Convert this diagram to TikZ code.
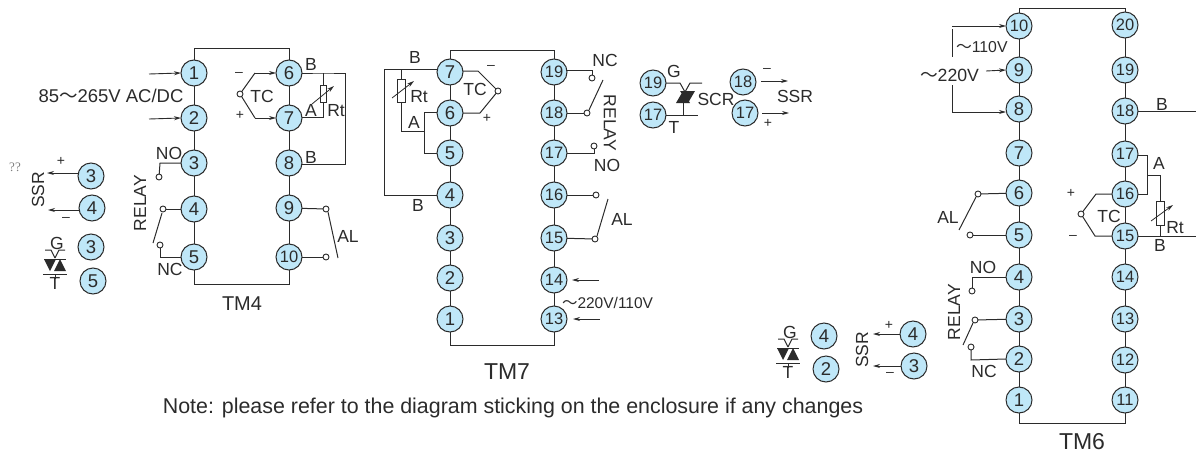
\documentclass[tikz,border=0pt]{standalone}
\usepackage{fontspec}
\setmainfont{Liberation Sans}
\newfontfamily\cjkf{Noto Sans CJK SC}
\newfontfamily\serf{Liberation Serif}
\usetikzlibrary{arrows.meta,calc}
\definecolor{ink}{HTML}{2B2B2B}
\definecolor{termfill}{HTML}{BFE7F8}
\newcommand{\wave}{{\cjkf ～}}
\newcommand{\tn}[1]{\ifnum#1>9 \fontsize{16.5}{16.5}\selectfont #1\else #1\fi}
\tikzset{
  x=1pt,y=-1pt,
  every path/.style={ink,line width=1pt},
  every node/.style={text=ink,inner sep=0pt,outer sep=0pt},
  term/.style={circle,draw=ink,fill=termfill,line width=1pt,minimum size=26pt,font=\fontsize{18.5}{18.5}\selectfont},
  contact/.style={circle,draw=ink,fill=white,line width=0.9pt,minimum size=6pt},
  lab/.style={font=\fontsize{17.5}{17.5}\selectfont},
  labs/.style={font=\fontsize{14}{14}\selectfont},
  arr/.style={-{Stealth[length=7pt,width=4pt]},line width=0.9pt},
  rtarrow/.style={-{Stealth[length=7pt,width=4pt]},line width=.8pt},
}
\newcommand{\triac}[3]{%
 \begin{scope}[shift={(#2,#3)}]
  \draw (-10,-12) -- (-4,-12) -- (0,-4);
  \draw (10,-12) -- (4,-12) -- (0,-4);
  \draw (-11,-3) -- (11,-3);
  \draw (-12,12) -- (12,12);
  \draw (0,12) -- (0,17);
  \fill[ink] (-11,-3) -- (1,-3) -- (-5,9) -- cycle;
  \fill[ink] (-1,9) -- (11,9) -- (5,-3) -- cycle;
 \end{scope}}
\begin{document}
\begin{tikzpicture}
\useasboundingbox (0,0) rectangle (1198,455);
% ---------- TM4 ----------
\foreach \n/\xx/\yy in {a1/194/73,a2/194/118,a3/194/163,a4/194/209,a5/194/257,
  a6/289/73,a7/289/118,a8/289/163,a9/289/208,a10/289/257}
  \coordinate (\n) at (\xx,\yy);
\coordinate (atl) at (194,48); \coordinate (atr) at (289,48);
\coordinate (abl) at (194,284); \coordinate (abr) at (289,284);
\draw (a1) -- (atl) -- (atr) -- (a6);
\draw (a5) -- (abl) -- (abr) -- (a10);
\draw (a1) -- (a5); \draw (a6) -- (a10);
\foreach \n/\t in {a1/1,a2/2,a3/3,a4/4,a5/5,a6/6,a7/7,a8/8,a9/9,a10/10}
  \node[term] (\n) at (\n) {\tn{\t}};
\coordinate (a1in) at (149,74); \coordinate (a2in) at (149,119);
\draw[arr] (a1in) -- (a1.west);
\draw[arr] (a2in) -- (a2.west);
\node[font=\fontsize{18.5}{18.5}\selectfont] at (111,96) {85\wave265V AC/DC};
% relay
\node[contact] (cNO) at (159,177) {};
\draw (a3.west) -- (160,163) -- (cNO);
\node[lab] at (169,153) {NO};
\node[contact] (c4) at (163,209) {};
\draw (a4) -- (c4);
\node[contact] (c5) at (160,245) {};
\draw (a5.west) -- (160,257) -- (c5);
\draw (162,213) -- (153,243);
\node[lab] at (170,269) {NC};
\node[lab,rotate=90] at (140,203) {RELAY};
% TC
\node[contact] (tc1) at (240,94) {};
\coordinate (tca) at (255,73); \coordinate (tcb) at (255,118);
\draw (tc1) -- (tca); \draw (tc1) -- (tcb);
\draw[arr] (tca) -- (a6.west);
\draw[arr] (tcb) -- (a7.west);
\node[labs] at (239,74) {–};
\node[labs] at (240,115) {+};
\node[lab] at (262,96) {TC};
% Rt
\coordinate (rttop) at (323,73); \coordinate (rtbot) at (323,117);
\coordinate (rtr) at (345,73); \coordinate (rtb) at (345,164);
\draw (a6.east) -- (rttop) -- (rtr) -- (rtb) -- (a8.east |- rtb);
\draw (rttop) -- (rtbot) -- (a7.east |- rtbot);
\node[draw=ink,fill=white,minimum width=6pt,minimum height=17pt,line width=.9pt] (art) at (323,94) {};
\draw[rtarrow] (312,104) -- (334,86);
\node[lab] at (311,64) {B};
\node[lab] at (311,110) {A};
\node[lab] at (336,111) {Rt};
\node[lab] at (311,157) {B};
% AL
\node[contact] (c9) at (326,209) {};
\node[contact] (c10) at (326,257) {};
\draw (a9) -- (c9); \draw (a10) -- (c10);
\draw (328,212) -- (338,258);
\node[lab] at (348,236) {AL};
\node[font=\fontsize{20}{20}\selectfont] at (242,304) {TM4};
% side
\node[term] (s1) at (91,176) {3};
\node[term] (s2) at (92,208) {4};
\node[term] (s3) at (91,247) {3};
\node[term] (s4) at (93,281) {5};
\coordinate (ssra) at (47,173); \coordinate (ssrb) at (48,210);
\draw[arr] (s1.west |- ssra) -- (ssra);
\draw[arr] (s2.west |- ssrb) -- (ssrb);
\node[labs] at (61,161) {+};
\node[labs] at (66,219) {–};
\node[lab,rotate=90] at (38,190) {SSR};
\node[font=\serf\fontsize{13}{13}\selectfont,text=gray] at (15,167) {??};
\node[lab] at (57,243) {G};
\node[lab] at (55,283) {T};
\triac{t1}{55}{262}
% ---------- TM7 ----------
\foreach \n/\xx/\yy in {b7/450/72,b6/450/113,b5/450/153,b4/450/195,b3/450/238,b2/450/278,b1/450/319,
  b19/554/72,b18/554/113,b17/554/153,b16/554/195,b15/554/238,b14/554/280,b13/554/319}
  \coordinate (\n) at (\xx,\yy);
\coordinate (btl) at (450,50); \coordinate (btr) at (554,50);
\coordinate (bbl) at (450,345); \coordinate (bbr) at (554,345);
\draw (b7) -- (btl) -- (btr) -- (b19);
\draw (b1) -- (bbl) -- (bbr) -- (b13);
\draw (b7) -- (b1); \draw (b19) -- (b13);
\foreach \n/\t in {b7/7,b6/6,b5/5,b4/4,b3/3,b2/2,b1/1,b19/19,b18/18,b17/17,b16/16,b15/15,b14/14,b13/13}
  \node[term] (\n) at (\n) {\tn{\t}};
% B loop
\coordinate (bb1) at (384,69); \coordinate (bb2) at (384,195); \coordinate (rtj) at (401,69);
\draw (b7.west |- bb1) -- (bb1) -- (bb2) -- (b4.west);
\coordinate (rtl) at (401,131); \coordinate (aj) at (424,131);
\draw (rtj) -- (rtl) -- (aj);
\coordinate (aj1) at (424,112); \coordinate (aj2) at (424,153);
\draw (b6.west |- aj1) -- (aj1) -- (aj2) -- (b5.west);
\node[draw=ink,fill=white,minimum width=8pt,minimum height=23pt,line width=.9pt] (brt) at (401,91) {};
\draw[rtarrow] (392,98) -- (414,81);
\node[lab] at (415,57) {B};
\node[lab] at (419,97) {Rt};
\node[lab] at (414,122) {A};
\node[lab] at (418,205) {B};
% TC
\node[contact] (btc) at (498,91) {};
\coordinate (btca) at (478,71); \coordinate (btcb) at (480,113);
\draw (b7.east |- btca) -- (btca) -- (btc) -- (btcb) -- (b6.east);
\node[labs] at (491,67) {–};
\node[labs] at (487,118) {+};
\node[lab] at (475,89) {TC};
% relay
\node[contact] (cnc) at (592,78) {};
\draw (b19.east |- 0,70) -- (592,70) -- (cnc);
\node[contact] (c18) at (587,113) {};
\draw (b18) -- (c18);
\draw (589,110) -- (603,80);
\node[contact] (cno) at (594,146) {};
\draw (b17.east) -- (594,153) -- (cno);
\node[lab] at (605,60) {NC};
\node[lab] at (607,165) {NO};
\node[lab,rotate=-90] at (610,123) {RELAY};
% AL
\node[contact] (c16) at (596,195) {};
\node[contact] (c15) at (595,239) {};
\draw (b16) -- (c16); \draw (b15) -- (c15);
\draw (597,236) -- (608,199);
\node[lab] at (622,219) {AL};
% supply
\coordinate (b14in) at (599,280); \coordinate (b13in) at (600,319);
\draw[arr] (b14in) -- (572,280);
\draw[arr] (b13in) -- (573,319);
\node[anchor=west,font=\fontsize{15.5}{15.5}\selectfont] at (562,303) {\wave220V/110V};
\node[font=\fontsize{23}{23}\selectfont] at (507,372) {TM7};
% SCR
\node[term] (x19) at (653,83) {\tn{19}};
\node[term] (x17) at (653,115) {\tn{17}};
\node[term] (x18) at (743,82) {\tn{18}};
\node[term] (x17b) at (745,113) {\tn{17}};
\coordinate (sg) at (680,83);
\draw (x19) -- (sg) -- (685,92);
\draw (702,83) -- (690,83) -- (685,92);
\coordinate (st) at (683,115);
\draw (x17) -- (698,115);
\draw (683,100) -- (683,115);
\fill[ink] (676,103) -- (690,103) -- (683,91) -- cycle;
\fill[ink] (680,91) -- (695,91) -- (688,103) -- cycle;
\node[lab] at (674,71) {G};
\node[lab] at (674,127) {T};
\node[lab] at (716,99) {SCR};
\draw[arr] (761,81) -- (788,81);
\draw[arr] (762,113) -- (789,113);
\node[labs] at (767,70) {–};
\node[labs] at (768,123) {+};
\node[lab] at (795,96) {SSR};
% ---------- TM6 ----------
\foreach \n/\xx/\yy in {c10/1019/26,c9/1019/70,c8/1019/109,c7/1019/153,c6/1019/193,c5/1019/235,c4/1019/277,c3/1019/319,c2/1019/359,c1/1019/400,
 c20/1125/25,c19/1125/70,c18/1125/111,c17/1125/154,c16/1125/194,c15/1125/236,c14/1125/277,c13/1125/319,c12/1125/360,c11/1125/400}
  \coordinate (\n) at (\xx,\yy);
\coordinate (ctl) at (1019,8); \coordinate (ctr) at (1125,8);
\coordinate (cbl) at (1019,423); \coordinate (cbr) at (1125,423);
\draw (c10) -- (ctl) -- (ctr) -- (c20);
\draw (c1) -- (cbl) -- (cbr) -- (c11);
\draw (c10) -- (c1); \draw (c20) -- (c11);
\foreach \n/\t in {c10/10,c9/9,c8/8,c7/7,c6/6,c5/5,c4/4,c3/3,c2/2,c1/1,c20/20,c19/19,c18/18,c17/17,c16/16,c15/15,c14/14,c13/13,c12/12,c11/11}
  \node[term] (\n) at (\n) {\tn{\t}};
% supply
\coordinate (w1) at (952,26); \coordinate (w1b) at (952,57);
\draw[arr] (w1) -- (c10.west);
\draw (952,29) -- (w1b);
\coordinate (w2) at (952,85); \coordinate (w3) at (952,112);
\draw (w2) -- (w3);
\draw[arr] (w3) -- (c8.west |- w3);
\draw[arr] (986,71) -- (c9.west);
\node[anchor=west,font=\fontsize{15.8}{15.8}\selectfont] at (956,47) {\wave110V};
\node[anchor=west,font=\fontsize{17.7}{17.7}\selectfont] at (920,75) {\wave220V};
% right
\coordinate (c18r) at (1196,111);
\draw (c18) -- (c18r);
\coordinate (c15r) at (1196,236);
\draw (c15) -- (c15r);
\node[lab] at (1162,104) {B};
\coordinate (ca) at (1147,155); \coordinate (cb) at (1147,194);
\draw (c17.east |- ca) -- (ca) -- (cb) -- (c16);
\coordinate (cj) at (1147,175); \coordinate (cr) at (1160,175);
\draw (cj) -- (cr) -- (1160,236);
\node[draw=ink,fill=white,minimum width=8pt,minimum height=24pt,line width=.9pt] (crt) at (1160,213) {};
\draw[rtarrow] (1151,221) -- (1173,205);
\node[lab] at (1159,163) {A};
\node[lab] at (1175,228) {Rt};
\node[lab] at (1160,245) {B};
\node[contact] (ctc) at (1081,214) {};
\coordinate (ctca) at (1096,194); \coordinate (ctcb) at (1095,236);
\draw (c16) -- (ctca) -- (ctc) -- (ctcb) -- (c15);
\node[labs] at (1071,193) {+};
\node[labs] at (1073,237) {–};
\node[lab] at (1109,216) {TC};
% AL
\node[contact] (d6) at (978,194) {};
\node[contact] (d5) at (970,235) {};
\draw (c6) -- (d6); \draw (c5) -- (d5);
\draw (976,197) -- (959,230);
\node[lab] at (948,217) {AL};
% relay
\node[contact] (d4) at (972,291) {};
\draw (c4.west) -- (972,277) -- (d4);
\node[contact] (d3) at (975,320) {};
\draw (c3) -- (d3);
\node[contact] (d2) at (971,347) {};
\draw (c2.west) -- (971,360) -- (d2);
\draw (973,323) -- (963,345);
\node[lab] at (983,267) {NO};
\node[lab] at (984,371) {NC};
\node[lab,rotate=90] at (954,312) {RELAY};
\node[font=\fontsize{23}{23}\selectfont] at (1082,442) {TM6};
% side
\node[term] (e1) at (824,336) {4};
\node[term] (e2) at (826,369) {2};
\node[term] (e3) at (913,334) {4};
\node[term] (e4) at (914,366) {3};
\draw[arr] (e3.west) -- (873,334);
\draw[arr] (e4.west) -- (873,366);
\node[labs] at (889,325) {+};
\node[labs] at (890,374) {–};
\node[lab,rotate=90] at (862,350) {SSR};
\node[lab] at (790,332) {G};
\node[lab] at (788,372) {T};
\triac{t2}{788}{351}
% note
\node[font=\fontsize{21.4}{21.4}\selectfont] at (513,408) {Note: please refer to the diagram sticking on the enclosure if any changes};
\end{tikzpicture}
\end{document}
